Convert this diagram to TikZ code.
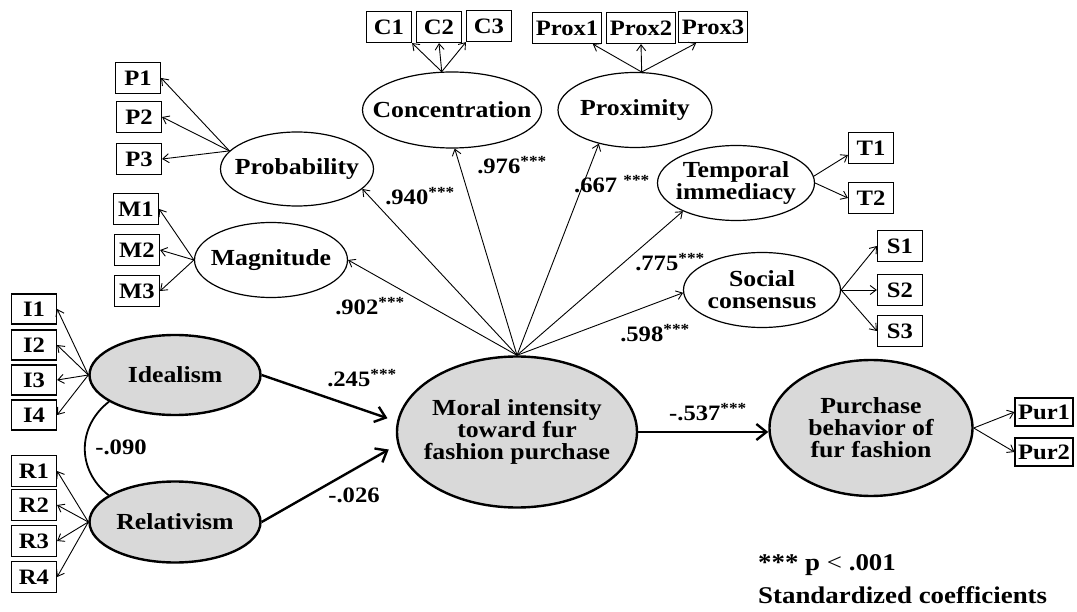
\documentclass[tikz,border=0pt]{standalone}
\usepackage{fontspec}
\setmainfont{Liberation Serif}[FakeStretch=1.12]
\usetikzlibrary{shapes.geometric,arrows.meta}
\begin{document}
\begin{tikzpicture}[x=1pt,y=-1pt,
  lat/.style={ellipse, draw, line width=1.2pt, inner sep=0pt},
  latg/.style={lat, fill=gray!30, line width=2.4pt},
  lattext/.style={inner sep=0pt, align=center, font=\fontsize{23}{22}\selectfont\bfseries},
  ind/.style={rectangle, draw, line width=1.2pt, inner xsep=3pt, inner ysep=0pt,
    minimum height=31pt, minimum width=45pt, font=\fontsize{22}{22}\selectfont\bfseries},
  coef/.style={font=\fontsize{22}{22}\selectfont\bfseries, inner sep=0pt},
  legend/.style={font=\fontsize{24}{24}\selectfont\bfseries, inner sep=0pt, anchor=west},
  ldarrow/.style={line width=0.9pt, -{Straight Barb[length=6pt,width=9pt]}},
  patharrow/.style={line width=2.4pt, -{Straight Barb[length=10pt,width=16pt]}},
]
\useasboundingbox (0,0) rectangle (1077,612);

% indicator boxes
\node[ind] (P1) at (138,78) {P1};
\node[ind] (P2) at (139,117) {P2};
\node[ind] (P3) at (139,159) {P3};
\node[ind] (M1) at (136,209) {M1};
\node[ind] (M2) at (137,250) {M2};
\node[ind] (M3) at (137,291) {M3};
\node[ind] (C1) at (389,27) {C1};
\node[ind] (C2) at (439,27) {C2};
\node[ind] (C3) at (489,26) {C3};
\node[ind, minimum width=0pt] (Prox1) at (567,28) {Prox1};
\node[ind, minimum width=0pt] (Prox2) at (641,28) {Prox2};
\node[ind, minimum width=0pt] (Prox3) at (713,27) {Prox3};
\node[ind] (T1) at (871,148) {T1};
\node[ind] (T2) at (871,198) {T2};
\node[ind] (S1) at (900,246) {S1};
\node[ind] (S2) at (900,290) {S2};
\node[ind] (S3) at (900,331) {S3};
\node[ind, minimum height=30pt] (I1) at (34,309) {I1};
\node[ind, minimum height=30pt] (I2) at (34,345) {I2};
\node[ind, minimum height=30pt] (I3) at (34,380) {I3};
\node[ind, minimum height=30pt] (I4) at (34,415) {I4};
\node[ind] (R1) at (34,471) {R1};
\node[ind] (R2) at (34,505) {R2};
\node[ind] (R3) at (34,541) {R3};
\node[ind] (R4) at (34,577) {R4};
\node[ind, minimum height=28pt, minimum width=58pt] (Pur1) at (1044,412) {Pur1};
\node[ind, minimum height=28pt, minimum width=58pt] (Pur2) at (1044,452) {Pur2};

% latent variables (shapes)
\node[lat, minimum width=153pt, minimum height=74pt] (prob) at (297,169) {};
\node[lat, minimum width=153pt, minimum height=75pt] (mag) at (271,260) {};
\node[lat, minimum width=179pt, minimum height=76pt] (conc) at (452,110) {};
\node[lat, minimum width=154pt, minimum height=75pt] (prox) at (635,110) {};
\node[lat, minimum width=157pt, minimum height=75pt] (temp) at (736,183) {};
\node[lat, minimum width=157pt, minimum height=75pt] (soc) at (762,290) {};
\node[latg, minimum width=171pt, minimum height=80pt] (ideal) at (175,375) {};
\node[latg, minimum width=171pt, minimum height=81pt] (rel) at (175,522) {};
\node[latg, minimum width=240pt, minimum height=151pt] (mi) at (517,432) {};
\node[latg, minimum width=203pt, minimum height=136pt] (pb) at (871,428) {};

% latent variables (labels)
\node[lattext] (probT) at (prob) {Probability};
\node[lattext] (magT) at (mag) {Magnitude};
\node[lattext] (concT) at (conc) {Concentration};
\node[lattext] (proxT) at (prox) {Proximity};
\node[lattext] (tempT) at (temp) {Temporal\\immediacy};
\node[lattext] (socT) at (soc) {Social\\consensus};
\node[lattext] (idealT) at (ideal) {Idealism};
\node[lattext] (relT) at (rel) {Relativism};
\node[lattext] (miT) at (mi) {Moral intensity\\toward fur\\fashion purchase};
\node[lattext] (pbT) at (pb) {Purchase\\behavior of\\fur fashion};

% second-order loadings
\draw[ldarrow] (mi.north) -- (prob.-17);
\draw[ldarrow] (mi.north) -- (mag.east);
\draw[ldarrow] (mi.north) -- (conc.-86);
\draw[ldarrow] (mi.north) -- (prox.223);
\draw[ldarrow] (mi.north) -- (temp.208);
\draw[ldarrow] (mi.north) -- (soc.182);

% indicator loadings
\draw[ldarrow] (prob.165) -- (P1.east);
\draw[ldarrow] (prob.165) -- (P2.east);
\draw[ldarrow] (prob.165) -- (P3.east);
\draw[ldarrow] (mag.west) -- (M1.east);
\draw[ldarrow] (mag.west) -- (M2.east);
\draw[ldarrow] (mag.west) -- (M3.east);
\draw[ldarrow] (conc.105) -- (C1.south east);
\draw[ldarrow] (conc.105) -- (C2.south);
\draw[ldarrow] (conc.105) -- (C3.south west);
\draw[ldarrow] (prox.80) -- ([xshift=-9pt]Prox1.south east);
\draw[ldarrow] (prox.80) -- (Prox2.south);
\draw[ldarrow] (prox.80) -- ([xshift=18pt]Prox3.south west);
\draw[ldarrow] (temp.5) -- ([yshift=-7pt]T1.west);
\draw[ldarrow] (temp.0) -- (T2.west);
\draw[ldarrow] (soc.east) -- (S1.west);
\draw[ldarrow] (soc.east) -- (S2.west);
\draw[ldarrow] (soc.east) -- (S3.west);
\draw[ldarrow] (ideal.west) -- (I1.east);
\draw[ldarrow] (ideal.west) -- (I2.east);
\draw[ldarrow] (ideal.west) -- (I3.east);
\draw[ldarrow] (ideal.west) -- (I4.east);
\draw[ldarrow] (rel.west) -- (R1.east);
\draw[ldarrow] (rel.west) -- (R2.east);
\draw[ldarrow] (rel.west) -- (R3.east);
\draw[ldarrow] (rel.west) -- (R4.east);
\draw[ldarrow] (pb.east) -- (Pur1.west);
\draw[ldarrow] (pb.east) -- (Pur2.west);

% structural paths
\draw[patharrow, shorten >=10pt] (ideal.east) -- (mi.175);
\draw[patharrow, shorten >=10pt] (rel.east) -- (mi.186);
\draw[patharrow] (mi.east) -- (mi.east -| pb.west);
\draw[line width=1.8pt] (ideal.202) .. controls +(-32,25) and +(-32,-25) .. (rel.158);

% coefficients
\node[coef] (c940) at (420,196) {.940\textsuperscript{***}};
\node[coef] (c976) at (512,165) {.976\textsuperscript{***}};
\node[coef] (c667) at (612,184) {.667 \textsuperscript{***}};
\node[coef] (c775) at (670,262) {.775\textsuperscript{***}};
\node[coef] (c902) at (370,306) {.902\textsuperscript{***}};
\node[coef] (c598) at (655,333) {.598\textsuperscript{***}};
\node[coef] (c245) at (362,378) {.245\textsuperscript{***}};
\node[coef] (c026) at (354,495) {-.026};
\node[coef] (c090) at (121,447) {-.090};
\node[coef] (c537) at (708,412) {-.537\textsuperscript{***}};

% legend
\node[legend] (leg1) at (758,565) {*** p {\mdseries <} .001};
\node[legend] (leg2) at (758,595) {Standardized coefficients};
\end{tikzpicture}
\end{document}
